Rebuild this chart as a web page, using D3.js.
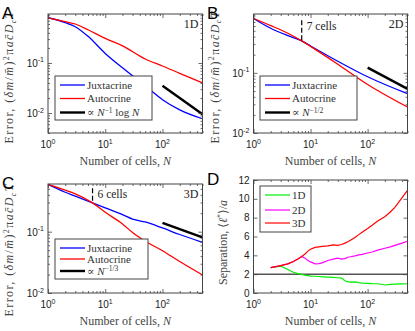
<!DOCTYPE html>
<html>
<head>
<meta charset="utf-8">
<script src="https://cdn.jsdelivr.net/npm/d3@7"></script>
<style>
  body { margin: 0; background: #fff; }
  svg { display: block; }
</style>
</head>
<body>
<script>
// --- data ---
const N_ERR = [1, 2, 3, 5, 10, 20, 50, 100, 200, 500]

// panel A, 1D
const juxtA = [0.8, 0.64, 0.53, 0.34, 0.155, 0.08, 0.035, 0.0185, 0.0116, 0.0077]
const autoA = [0.8, 0.67, 0.6, 0.46, 0.31, 0.22, 0.12, 0.087, 0.062, 0.04]
const refA_N = [100, 200, 500]
const refA = [0.035, 0.02, 0.0095]

// panel B, 2D
const N_B = [1, 2, 4, 7, 10, 30, 100, 500]
const juxtB = [0.8, 0.55, 0.415, 0.34, 0.28, 0.156, 0.086, 0.045]
const autoB = [0.8, 0.61, 0.455, 0.34, 0.275, 0.139, 0.064, 0.027]
const refB_N = [100, 500]
const refB = [0.122, 0.054]

// panel C, 3D
const N_C = [1, 2, 3, 6, 10, 20, 30, 50, 100, 200, 500]
const juxtC = [0.59, 0.44, 0.38, 0.295, 0.245, 0.19, 0.161, 0.144, 0.115, 0.09, 0.067]
const autoC = [0.59, 0.475, 0.415, 0.295, 0.207, 0.134, 0.097, 0.07, 0.049, 0.0326, 0.0197]
const refC_N = [100, 500]
const refC = [0.139, 0.081]

// panel D, separation
const N_D = [2, 3, 4, 5, 6, 7, 8, 9, 10, 12, 14, 16, 20, 25, 30, 35, 40, 45, 50, 60, 70, 80, 100, 120, 150, 200, 250, 300, 400, 500]
const sep1D = [2.7, 2.85, 2.5, 2.2, 2.05, 1.97, 1.9, 1.85, 1.8, 1.78, 1.75, 1.72, 1.68, 1.65, 1.62, 1.58, 1.3, 1.2, 1.15, 1.18, 1.1, 1.05, 1.03, 1.0, 0.98, 0.85, 0.92, 0.95, 0.97, 0.98]
const sep2D = [2.7, 2.9, 3.1, 3.35, 3.6, 3.88, 3.7, 3.45, 3.3, 3.1, 3.12, 3.2, 3.45, 3.6, 3.7, 3.6, 3.65, 3.8, 3.85, 3.95, 4.05, 4.1, 4.25, 4.35, 4.55, 4.75, 4.9, 5.05, 5.3, 5.5]
const sep3D = [2.7, 2.9, 3.1, 3.35, 3.6, 3.88, 4.15, 4.45, 4.65, 4.85, 4.9, 4.95, 5.0, 5.1, 5.05, 5.15, 5.3, 5.45, 5.6, 5.9, 6.2, 6.45, 6.85, 7.2, 7.65, 8.1, 8.6, 9.1, 10.1, 10.9]
const SEP_LINE = 2
const D_TICKS = [0, 2, 4, 6, 8, 10, 12]

const AXIS = "#444"
const SERIF = "'Liberation Serif', 'DejaVu Serif', serif"
const SANS = "'Liberation Sans', Arial, sans-serif"

const svg = d3.select("body").append("svg")
    .attr("width", 415)
    .attr("height", 331)

function logMajor(dom) {
  let out = []
  for (let e = Math.floor(Math.log10(dom[0])); e <= Math.ceil(Math.log10(dom[1])); e++) {
    let v = Math.pow(10, e)
    if (v >= dom[0] * 0.999 && v <= dom[1] * 1.001) out.push(v)
  }
  return out
}

function logMinor(dom) {
  let out = []
  for (let e = Math.floor(Math.log10(dom[0])); e <= Math.ceil(Math.log10(dom[1])); e++) {
    for (let m = 2; m <= 9; m++) {
      let v = m * Math.pow(10, e)
      if (v >= dom[0] && v <= dom[1]) out.push(v)
    }
  }
  return out
}

// "10" with superscript exponent
function powLabel(g, x, y, exp, anchor) {
  const t = g.append("text")
    .attr("x", x).attr("y", y)
    .attr("text-anchor", anchor)
    .attr("font-family", SANS)
    .attr("font-size", 10)
    .attr("fill", "#222")
  t.append("tspan").text("10")
  t.append("tspan").attr("dy", -4.5).attr("font-size", 7).text(exp < 0 ? "-" + (-exp) : exp)
}

function drawFrame(g, x, y, box, yLog) {
  const xMaj = logMajor(x.domain())
  const xMin = logMinor(x.domain())

  const tickAxis = (axis, vals, size) => axis.tickValues(vals).tickSize(size).tickFormat("")

  // x ticks bottom & top
  g.append("g").attr("transform", `translate(0,${box.bottom})`)
    .call(tickAxis(d3.axisBottom(x), xMaj, -4))
  g.append("g").attr("transform", `translate(0,${box.bottom})`)
    .call(tickAxis(d3.axisBottom(x), xMin, -2))
  g.append("g").attr("transform", `translate(0,${box.top})`)
    .call(tickAxis(d3.axisTop(x), xMaj, -4))
  g.append("g").attr("transform", `translate(0,${box.top})`)
    .call(tickAxis(d3.axisTop(x), xMin, -2))

  let yMaj = yLog ? logMajor(y.domain()) : D_TICKS
  g.append("g").attr("transform", `translate(${box.left},0)`)
    .call(tickAxis(d3.axisLeft(y), yMaj, -4))
  g.append("g").attr("transform", `translate(${box.right},0)`)
    .call(tickAxis(d3.axisRight(y), yMaj, -4))
  if (yLog) {
    let yMin = logMinor(y.domain())
    g.append("g").attr("transform", `translate(${box.left},0)`)
      .call(tickAxis(d3.axisLeft(y), yMin, -2))
    g.append("g").attr("transform", `translate(${box.right},0)`)
      .call(tickAxis(d3.axisRight(y), yMin, -2))
  }
  g.selectAll(".domain").remove()
  g.selectAll(".tick line").attr("stroke", AXIS).attr("stroke-width", 0.8)

  g.append("rect")
    .attr("x", box.left).attr("y", box.top)
    .attr("width", box.right - box.left).attr("height", box.bottom - box.top)
    .attr("fill", "none").attr("stroke", AXIS).attr("stroke-width", 1)

  // tick labels
  xMaj.forEach(v => powLabel(g, x(v), box.bottom + 15, Math.round(Math.log10(v)), "middle"))
  if (yLog) {
    yMaj.forEach(v => powLabel(g, box.left - 4, y(v) + 4, Math.round(Math.log10(v)), "end"))
  } else {
    yMaj.forEach(v => g.append("text")
      .attr("x", box.left - 4).attr("y", y(v) + 3.5)
      .attr("text-anchor", "end")
      .attr("font-family", SANS).attr("font-size", 10).attr("fill", "#222")
      .text(v))
  }

  // x label
  const xl = g.append("text")
    .attr("x", (box.left + box.right) / 2).attr("y", box.bottom + 32)
    .attr("text-anchor", "middle")
    .attr("font-family", SERIF).attr("font-size", 12).attr("fill", "#444")
  xl.append("tspan").text("Number of cells, ")
  xl.append("tspan").attr("font-style", "italic").text("N")
}

function errorYLabel(g, cx, cy) {
  const t = g.append("text")
    .attr("transform", `translate(${cx},${cy}) rotate(-90)`)
    .attr("text-anchor", "middle")
    .attr("font-family", SERIF).attr("font-size", 12).attr("fill", "#444")
    .attr("textLength", 132).attr("lengthAdjust", "spacing")
  t.append("tspan").text("Error, (")
  t.append("tspan").attr("font-style", "italic").text("δm")
  t.append("tspan").text("/")
  t.append("tspan").attr("font-style", "italic").text("m\u0304")
  t.append("tspan").text(")")
  t.append("tspan").attr("dy", -4.5).attr("font-size", 8).text("2")
  t.append("tspan").attr("dy", 4.5).text("π")
  t.append("tspan").attr("font-style", "italic").text("ac\u0304D")
  t.append("tspan").attr("dy", 2.5).attr("font-size", 8).attr("font-style", "italic").text("c")
  t.append("tspan").attr("dy", -2.5).attr("font-style", "italic").text("T")
}

function panelLetter(x, y, s) {
  svg.append("text").attr("x", x).attr("y", y)
    .attr("font-family", SANS).attr("font-size", 17).attr("fill", "#000")
    .text(s)
}

function legend(g, x0, y0, w, h, rows) {
  g.append("rect").attr("x", x0).attr("y", y0).attr("width", w).attr("height", h)
    .attr("fill", "#fff").attr("stroke", AXIS).attr("stroke-width", 1)
  rows.forEach(r => {
    g.append("line")
      .attr("x1", x0 + 5).attr("x2", x0 + 30)
      .attr("y1", r.y).attr("y2", r.y)
      .attr("stroke", r.color).attr("stroke-width", r.width)
    const t = g.append("text").attr("x", x0 + 32).attr("y", r.y + 3.8)
      .attr("font-family", SERIF).attr("font-size", 11).attr("fill", "#333")
    r.text(t)
  })
}

const plainText = s => t => t.text(s)
const refText = exp => t => {
  t.append("tspan").text("∝ ")
  t.append("tspan").attr("font-style", "italic").text("N")
  t.append("tspan").attr("dy", -3.5).attr("font-size", 7.5).text(exp)
  if (exp === "−1") {
    t.append("tspan").attr("dy", 3.5).text(" log ")
    t.append("tspan").attr("font-style", "italic").text("N")
  }
}

function errorPanel(cfg) {
  const g = svg.append("g")
  const box = cfg.box
  const x = d3.scaleLog().domain([1, 500]).range([box.left, box.right])
  const y = d3.scaleLog().domain(cfg.yDomain).range([box.bottom, box.top])

  const line = d3.line()
    .x(d => x(d[0])).y(d => y(d[1]))
    .curve(d3.curveMonotoneX)

  g.append("path").datum(d3.zip(cfg.n, cfg.jux))
    .attr("d", line).attr("fill", "none").attr("stroke", "#0000ff").attr("stroke-width", 1.3)
  g.append("path").datum(d3.zip(cfg.n, cfg.aut))
    .attr("d", line).attr("fill", "none").attr("stroke", "#ff0000").attr("stroke-width", 1.3)
  g.append("path").datum(d3.zip(cfg.refN, cfg.ref))
    .attr("d", line).attr("fill", "none").attr("stroke", "#000").attr("stroke-width", 2.4)

  if (cfg.mark) {
    g.append("line")
      .attr("x1", x(cfg.mark.n)).attr("x2", x(cfg.mark.n))
      .attr("y1", y(cfg.mark.from)).attr("y2", y(cfg.mark.to))
      .attr("stroke", "#000").attr("stroke-width", 1.2).attr("stroke-dasharray", "5,2.5")
    g.append("text")
      .attr("x", x(cfg.mark.n) + 5).attr("y", y(cfg.mark.from) + 10)
      .attr("font-family", SERIF).attr("font-size", 11.5).attr("fill", "#222")
      .text(cfg.mark.n + " cells")
  }

  drawFrame(g, x, y, box, true)

  g.append("text").attr("x", box.right - 4).attr("y", box.top + 14)
    .attr("text-anchor", "end")
    .attr("font-family", SERIF).attr("font-size", 12).attr("fill", "#222")
    .text(cfg.dim)

  legend(g, cfg.leg.x, cfg.leg.y, cfg.leg.w, cfg.leg.h, [
    { y: cfg.leg.y + cfg.leg.rows[0], color: "#0000ff", width: 1.3, text: plainText("Juxtacrine") },
    { y: cfg.leg.y + cfg.leg.rows[1], color: "#ff0000", width: 1.3, text: plainText("Autocrine") },
    { y: cfg.leg.y + cfg.leg.rows[2], color: "#000", width: 2.4, text: refText(cfg.refExp) }
  ])

  errorYLabel(g, box.left - 35, (box.top + box.bottom) / 2 + cfg.labelShift)
}

errorPanel({
  box: { left: 48, right: 202.5, top: 14, bottom: 133 },
  yDomain: [0.004, 0.95],
  n: N_ERR, jux: juxtA, aut: autoA, refN: refA_N, ref: refA,
  dim: "1D", refExp: "−1", labelShift: 4,
  leg: { x: 55, y: 76, w: 97, h: 44, rows: [9, 22.5, 36.5] }
})

errorPanel({
  box: { left: 253.5, right: 407.5, top: 14, bottom: 133 },
  yDomain: [0.01, 0.95],
  n: N_B, jux: juxtB, aut: autoB, refN: refB_N, ref: refB,
  dim: "2D", refExp: "−1/2", labelShift: 4,
  mark: { n: 7, from: 0.75, to: 0.34 },
  leg: { x: 260, y: 76, w: 97, h: 44, rows: [9, 22.5, 36.5] }
})

errorPanel({
  box: { left: 48, right: 202.5, top: 184, bottom: 293 },
  yDomain: [0.01, 0.6],
  n: N_C, jux: juxtC, aut: autoC, refN: refC_N, ref: refC,
  dim: "3D", refExp: "−1/3", labelShift: 12,
  mark: { n: 6, from: 0.51, to: 0.295 },
  leg: { x: 55, y: 239, w: 93, h: 40, rows: [9, 20, 32] }
})

// panel D
{
  const g = svg.append("g")
  const box = { left: 253.5, right: 407.5, top: 180, bottom: 293 }
  const x = d3.scaleLog().domain([1, 500]).range([box.left, box.right])
  const y = d3.scaleLinear().domain([0, 12]).range([box.bottom, box.top])

  g.append("line")
    .attr("x1", box.left).attr("x2", box.right)
    .attr("y1", y(SEP_LINE)).attr("y2", y(SEP_LINE))
    .attr("stroke", "#555").attr("stroke-width", 1.5)

  const line = d3.line().x(d => x(d[0])).y(d => y(d[1]))
  const series = [
    { v: sep1D, c: "#00ee00", name: "1D" },
    { v: sep2D, c: "#ff00ff", name: "2D" },
    { v: sep3D, c: "#ff0000", name: "3D" }
  ]
  series.forEach(s => {
    g.append("path").datum(d3.zip(N_D, s.v))
      .attr("d", line).attr("fill", "none").attr("stroke", s.c).attr("stroke-width", 1.2)
  })

  drawFrame(g, x, y, box, false)

  legend(g, 260, 186, 51, 46, series.map((s, i) => ({
    y: 186 + [9, 24, 37][i], color: s.c, width: 1.2, text: plainText(s.name)
  })))

  const t = g.append("text")
    .attr("transform", `translate(${box.left - 27},${(box.top + box.bottom) / 2 + 6}) rotate(-90)`)
    .attr("text-anchor", "middle")
    .attr("font-family", SERIF).attr("font-size", 12).attr("fill", "#444")
  t.append("tspan").text("Separation, ⟨")
  t.append("tspan").attr("font-style", "italic").text("ℓ")
  t.append("tspan").attr("dy", -4).attr("font-size", 8).text("*")
  t.append("tspan").attr("dy", 4).text("⟩/")
  t.append("tspan").attr("font-style", "italic").text("a")
}

panelLetter(2, 19, "A")
panelLetter(207, 19, "B")
panelLetter(2, 189, "C")
panelLetter(207, 185, "D")
</script>
</body>
</html>
